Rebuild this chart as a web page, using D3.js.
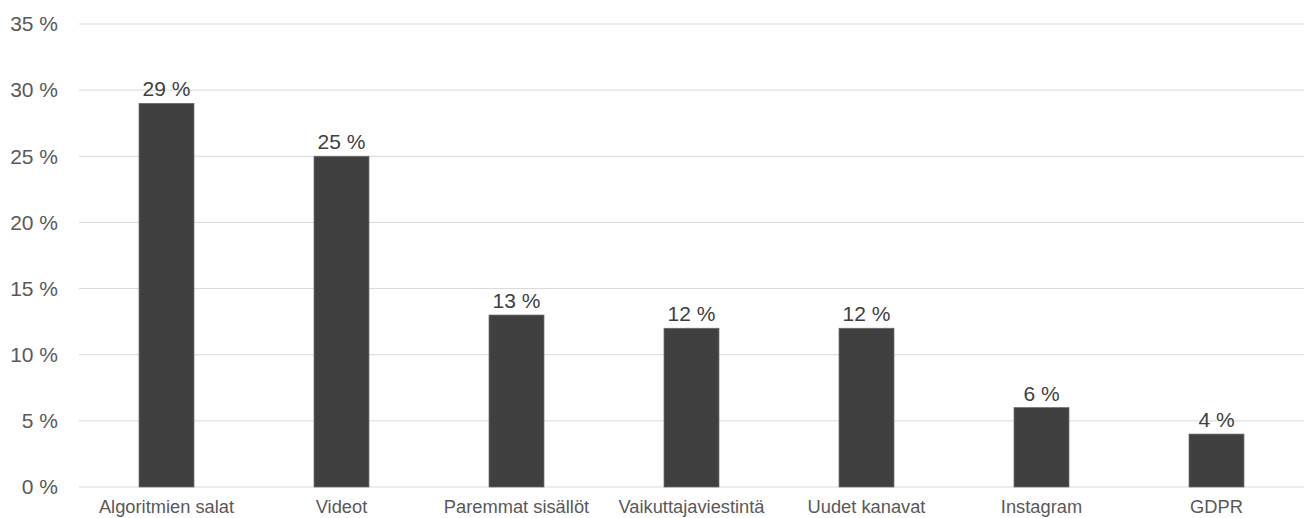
<!DOCTYPE html>
<html><head><meta charset="utf-8">
<script src="https://cdn.jsdelivr.net/npm/d3@7"></script>
<style>body{margin:0;background:#fff;}svg{display:block;font-family:"Liberation Sans",Arial,sans-serif;}</style>
</head><body>
<script>
const categories = ["Algoritmien salat","Videot","Paremmat sisällöt","Vaikuttajaviestintä","Uudet kanavat","Instagram","GDPR"];
const values = [29,25,13,12,12,6,4];
const yTicks = [0,5,10,15,20,25,30,35];

const W=1307,H=518;
const svg=d3.select("body").append("svg").attr("width",W).attr("height",H);
const x=d3.scaleBand().domain(categories).range([79,1304]).paddingInner(0.686).paddingOuter(0.343);
const y=d3.scaleLinear().domain([0,35]).range([487,24]);

svg.append("g").selectAll("line").data(yTicks).join("line")
  .attr("x1",79).attr("x2",1304).attr("y1",d=>y(d)).attr("y2",d=>y(d))
  .attr("stroke","#d9d9d9").attr("stroke-width",1);

svg.append("g").selectAll("text").data(yTicks).join("text")
  .attr("x",58).attr("y",d=>y(d)).attr("dy","0.35em").attr("text-anchor","end")
  .attr("font-size",21).attr("fill","#595959").text(d=>d+" %");

svg.append("g").selectAll("rect").data(values).join("rect")
  .attr("x",(d,i)=>x(categories[i])).attr("width",x.bandwidth())
  .attr("y",d=>y(d)).attr("height",d=>y(0)-y(d))
  .attr("fill","#404040").attr("stroke","#6a6a6a").attr("stroke-width",0.75);

svg.append("g").selectAll("text").data(values).join("text")
  .attr("x",(d,i)=>x(categories[i])+x.bandwidth()/2).attr("y",d=>y(d)-7)
  .attr("text-anchor","middle").attr("font-size",21).attr("fill","#404040").text(d=>d+" %");

svg.append("g").selectAll("text").data(categories).join("text")
  .attr("x",d=>x(d)+x.bandwidth()/2).attr("y",513)
  .attr("text-anchor","middle").attr("font-size",18.3).attr("fill","#595959").text(d=>d);
</script>
</body></html>
